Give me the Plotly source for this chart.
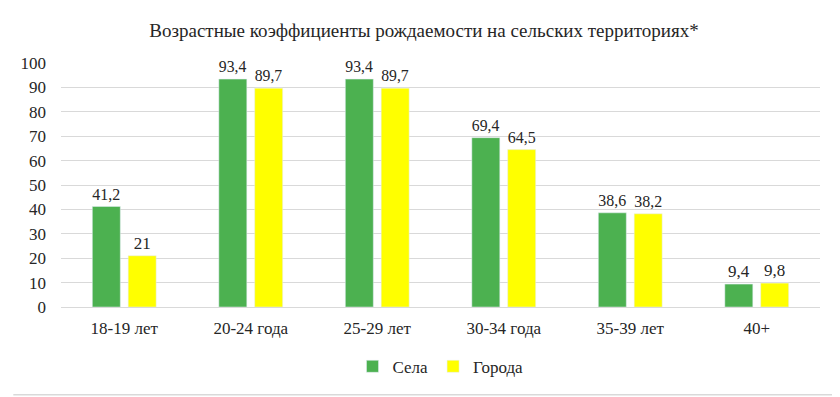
import plotly.graph_objects as go

categories = ["18-19 лет", "20-24 года", "25-29 лет", "30-34 года", "35-39 лет", "40+"]
selo = [41.2, 93.4, 93.4, 69.4, 38.6, 9.4]
goroda = [21, 89.7, 89.7, 64.5, 38.2, 9.8]
selo_labels = ["41,2", "93,4", "93,4", "69,4", "38,6", "9,4"]
goroda_labels = ["21", "89,7", "89,7", "64,5", "38,2", "9,8"]
tick_vals = list(range(0, 101, 10))

OFF = 8  # page body margin
W, H = 840 - OFF, 397 - OFF
ml, mr, mt, mb = 56 - OFF, 20, 63 - OFF, 89
FONT = "'Times New Roman', 'Liberation Serif', Tinos, 'DejaVu Serif', 'Noto Serif', serif"
TXT = "#262626"

fig = go.Figure()
fig.add_trace(go.Bar(x=categories, y=selo, name="Села", marker_color="#4CB150",
                     text=selo_labels, textposition="outside", cliponaxis=False,
                     textfont=dict(size=17, color=TXT, family=FONT)))
fig.add_trace(go.Bar(x=categories, y=goroda, name="Города", marker_color="#FFFF00",
                     text=goroda_labels, textposition="outside", cliponaxis=False,
                     textfont=dict(size=17, color=TXT, family=FONT)))

pw = W - ml - mr
ph = H - mt - mb
fig.update_layout(
    width=W, height=H,
    margin=dict(l=ml, r=mr, t=mt, b=mb),
    paper_bgcolor="white", plot_bgcolor="white",
    font=dict(family=FONT, color=TXT),
    title=dict(text="Возрастные коэффициенты рождаемости на сельских территориях*",
               x=0.5, xanchor="center", y=1 - (30 - OFF) / H, yanchor="middle",
               font=dict(size=19, family=FONT, color=TXT)),
    barmode="group", bargap=0.433, bargroupgap=0.22,
    showlegend=True,
    legend=dict(orientation="h", x=0.5, xanchor="center", y=-(368 - 308) / ph,
                yanchor="middle", font=dict(size=17, family=FONT, color=TXT),
                itemwidth=30, traceorder="normal"),
)
fig.update_yaxes(range=[0, 100], tickvals=tick_vals, showgrid=True, gridcolor="#D9D9D9",
                 gridwidth=1, zeroline=False, showline=False, ticks="",
                 tickfont=dict(size=17, family=FONT, color=TXT), ticklabelstandoff=14)
fig.update_xaxes(showline=True, linecolor="#D9D9D9", linewidth=1, ticks="",
                 tickfont=dict(size=17, family=FONT, color=TXT), ticklabelstandoff=6)

# outer chart border (right and bottom edges visible within the window)
fig.add_shape(type="line", xref="paper", yref="paper",
              x0=1 + (mr - 2) / pw, x1=1 + (mr - 2) / pw,
              y0=-(mb - 1) / ph, y1=1 + mt / ph,
              line=dict(color="#D9D9D9", width=1.5), layer="below")
fig.add_shape(type="line", xref="paper", yref="paper",
              x0=-ml / pw, x1=1 + (mr - 2) / pw,
              y0=-(mb - 1) / ph, y1=-(mb - 1) / ph,
              line=dict(color="#D9D9D9", width=1.5), layer="below")

fig.write_html("out.html")
